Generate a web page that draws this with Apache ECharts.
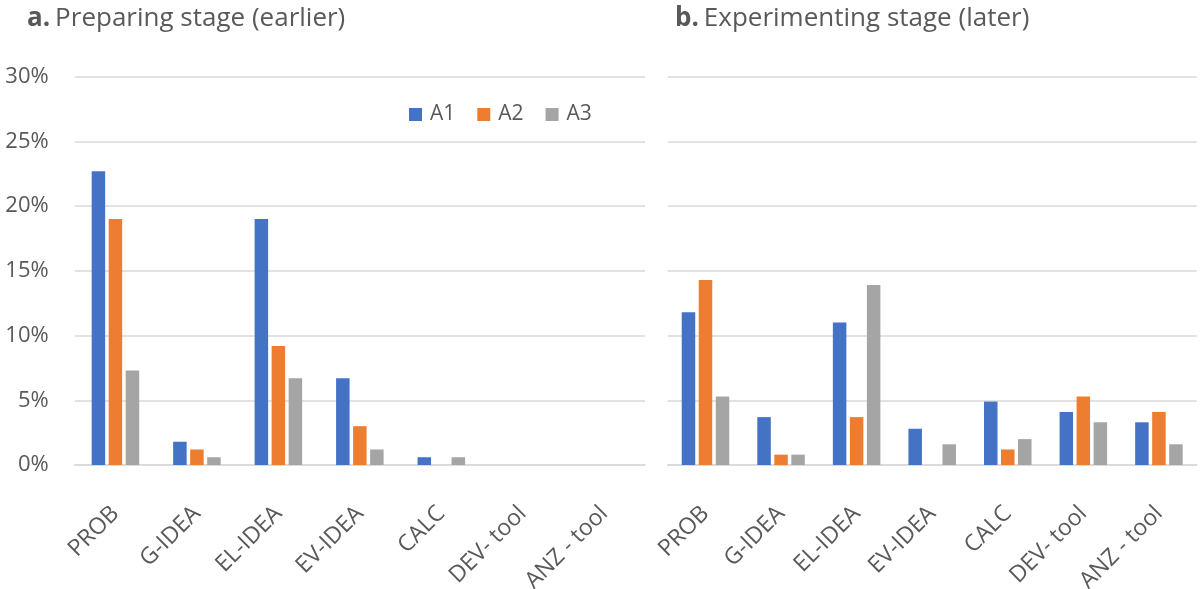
<!DOCTYPE html>
<html>
<head>
<meta charset="utf-8">
<script src="https://cdn.jsdelivr.net/npm/echarts@6/dist/echarts.min.js"></script>
<style>
html,body{margin:0;padding:0;background:#fff;}
#chart{width:1200px;height:589px;}
</style>
</head>
<body>
<div id="chart"></div>
<script>
var categories = ['PROB', 'G-IDEA', 'EL-IDEA', 'EV-IDEA', 'CALC', 'DEV- tool', 'ANZ - tool'];
var seriesNames = ['A1', 'A2', 'A3'];
var yTicks = [0, 5, 10, 15, 20, 25, 30];

// a. Preparing stage (earlier), percent
var prepA1 = [22.7, 1.8, 19.0, 6.7, 0.6, 0, 0];
var prepA2 = [19.0, 1.2, 9.2, 3.0, 0, 0, 0];
var prepA3 = [7.3, 0.6, 6.7, 1.2, 0.6, 0, 0];

// b. Experimenting stage (later), percent
var expA1 = [11.8, 3.7, 11.0, 2.8, 4.9, 4.1, 3.3];
var expA2 = [14.3, 0.8, 3.7, 0, 1.2, 5.3, 4.1];
var expA3 = [5.3, 0.8, 13.9, 1.6, 2.0, 3.3, 1.6];

var colors = ['#4472C4', '#ED7D31', '#A5A5A5'];
var FONT = '"Open Sans"';
var TXT = '#595959';

function bar(name, data, idx, color) {
  return {
    name: name, type: 'bar', data: data,
    xAxisIndex: idx, yAxisIndex: idx,
    barWidth: 13.5, barGap: '26%',
    itemStyle: { color: color },
    emphasis: { disabled: true }
  };
}

var chart = echarts.init(document.getElementById('chart'));
var titleRich = {
  b: { fontFamily: FONT, fontSize: 26, fontWeight: 'bold', color: TXT },
  n: { fontFamily: FONT, fontSize: 26, fontWeight: 'normal', color: TXT }
};
function xAxis(idx) {
  return {
    type: 'category', gridIndex: idx, data: categories,
    axisLine: { show: true, lineStyle: { color: '#d9d9d9', width: 1.5 } },
    axisTick: { show: false },
    axisLabel: {
      interval: 0, rotate: 45, margin: 45, color: TXT,
      fontFamily: FONT, fontSize: 23, verticalAlign: 'middle', align: 'right'
    }
  };
}
function yAxis(idx, showLabels) {
  return {
    type: 'value', gridIndex: idx, min: yTicks[0], max: yTicks[yTicks.length - 1], interval: 5,
    axisLine: { show: false }, axisTick: { show: false },
    splitLine: { lineStyle: { color: '#d9d9d9', width: 1.5 } },
    axisLabel: {
      show: showLabels, formatter: '{value}%', margin: 26,
      color: TXT, fontFamily: FONT, fontSize: 22
    }
  };
}

chart.setOption({
  animation: false,
  backgroundColor: '#fff',
  title: [
    { text: '{b|a.} {n|Preparing stage (earlier)}', left: 22, top: 1, padding: 5, textStyle: { fontWeight: 'normal', rich: titleRich } },
    { text: '{b|b.} {n|Experimenting stage (later)}', left: 670, top: 1, padding: 5, textStyle: { fontWeight: 'normal', rich: titleRich } }
  ],
  legend: {
    data: seriesNames, left: 409, top: 104, padding: 0,
    icon: 'rect', itemWidth: 13, itemHeight: 13, itemGap: 22,
    textStyle: { color: TXT, fontFamily: FONT, fontSize: 21, padding: [0, 0, 0, 3] }
  },
  grid: [
    { left: 74.7, right: 555, top: 76.7, bottom: 124, outerBoundsMode: 'none', containLabel: false },
    { left: 667.7, right: 3.3, top: 76.7, bottom: 124, outerBoundsMode: 'none', containLabel: false }
  ],
  xAxis: [xAxis(0), xAxis(1)],
  yAxis: [yAxis(0, true), yAxis(1, false)],
  series: [
    bar(seriesNames[0], prepA1, 0, colors[0]),
    bar(seriesNames[1], prepA2, 0, colors[1]),
    bar(seriesNames[2], prepA3, 0, colors[2]),
    bar(seriesNames[0], expA1, 1, colors[0]),
    bar(seriesNames[1], expA2, 1, colors[1]),
    bar(seriesNames[2], expA3, 1, colors[2])
  ]
});
</script>
</body>
</html>
